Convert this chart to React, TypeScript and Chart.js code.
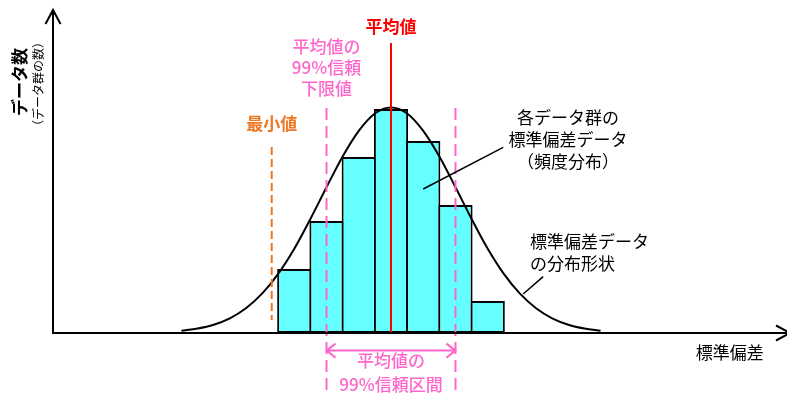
import React, { useEffect, useRef } from 'react';
import { Chart, registerables } from 'chart.js';

Chart.register(...registerables);

// ---- data (bin index units on x, counts on y) ----
const binCenters = [0, 1, 2, 3, 4, 5, 6];
const binCounts = [4, 7, 11, 14, 12, 8, 2];

const curveX = [-3.5, -3, -2.5, -2, -1.5, -1, -0.5, 0, 0.5, 1, 1.5, 2, 2.5, 3, 3.5, 4, 4.5, 5, 5.5, 6, 6.5, 7, 7.5, 8, 8.5, 9, 9.5];
const curveY = [0.14, 0.28, 0.52, 0.92, 1.55, 2.46, 3.7, 5.27, 7.13, 9.11, 11.03, 12.63, 13.72, 14.1, 13.72, 12.63, 11.03, 9.11, 7.13, 5.27, 3.7, 2.46, 1.55, 0.92, 0.52, 0.28, 0.14];

const meanValue = 3;
const ciLower = 1;
const ciUpper = 5;
const minValue = -0.7;

const meanLineTop = 18.125;
const ciLineTop = 14.06;
const minLineTop = 11.625;
const minLineBottom = 0.8125;

const X_MIN = -9.128;
const X_MAX = 15.283;
const Y_MIN = -3.9375;
const Y_MAX = 20.8125;

const axisXPos = -7.484;
const axisYTop = 20.19;
const axisXEnd = 15.376;

const FONT = '"Noto Sans CJK JP", "Noto Sans", sans-serif';
const PINK = '#ff66cc';
const RED = '#ff0000';
const ORANGE = '#ee7722';
const CYAN = '#66ffff';

type TextItem = { text: string; u: number; v: number; color: string; weight: string; size: number; align: CanvasTextAlign };

const texts: TextItem[] = [
  { text: '平均値', u: meanValue, v: 19.125, color: RED, weight: 'bold', size: 17, align: 'center' },
  { text: '平均値の', u: ciLower, v: 17.875, color: PINK, weight: '500', size: 17, align: 'center' },
  { text: '99%信頼', u: ciLower, v: 16.5625, color: PINK, weight: '500', size: 17, align: 'center' },
  { text: '下限値', u: ciLower, v: 15.25, color: PINK, weight: '500', size: 17, align: 'center' },
  { text: '最小値', u: minValue, v: 13.0625, color: ORANGE, weight: 'bold', size: 17, align: 'center' },
  { text: '各データ群の', u: 8.49, v: 13.44, color: '#000', weight: 'normal', size: 17, align: 'center' },
  { text: '標準偏差データ', u: 8.49, v: 12.06, color: '#000', weight: 'normal', size: 17, align: 'center' },
  { text: '（頻度分布）', u: 8.49, v: 10.69, color: '#000', weight: 'normal', size: 17, align: 'center' },
  { text: '標準偏差データ', u: 7.31, v: 5.69, color: '#000', weight: 'normal', size: 17, align: 'left' },
  { text: 'の分布形状', u: 7.31, v: 4.31, color: '#000', weight: 'normal', size: 17, align: 'left' },
  { text: '標準偏差', u: 13.51, v: -1.25, color: '#000', weight: 'normal', size: 17, align: 'center' },
  { text: '平均値の', u: meanValue, v: -1.75, color: PINK, weight: '500', size: 17, align: 'center' },
  { text: '99%信頼区間', u: meanValue, v: -3.25, color: PINK, weight: '500', size: 17, align: 'center' },
];

const leaders = [
  [4.0, 9.0, 6.48, 11.6],
  [7.1, 2.44, 7.72, 3.52],
];

const annotPlugin = {
  id: 'annot',
  afterDatasetsDraw(chart: any) {
    const { ctx } = chart;
    const xs = chart.scales.x;
    const ys = chart.scales.y;
    const P = (u: number, v: number) => [xs.getPixelForValue(u), ys.getPixelForValue(v)];
    ctx.save();
    // axes
    ctx.strokeStyle = '#000';
    ctx.lineWidth = 2;
    ctx.lineJoin = 'miter';
    const [ax, ay] = P(axisXPos, 0);
    const [, aTop] = P(axisXPos, axisYTop);
    const [aEnd] = P(axisXEnd, 0);
    ctx.beginPath();
    ctx.moveTo(ax, ay + 1);
    ctx.lineTo(ax, aTop);
    ctx.moveTo(ax, ay);
    ctx.lineTo(aEnd, ay);
    ctx.stroke();
    ctx.beginPath();
    ctx.moveTo(ax - 7.5, aTop + 14);
    ctx.lineTo(ax, aTop);
    ctx.lineTo(ax + 7.5, aTop + 14);
    ctx.stroke();
    ctx.beginPath();
    ctx.moveTo(aEnd - 14, ay - 7.5);
    ctx.lineTo(aEnd, ay);
    ctx.lineTo(aEnd - 14, ay + 7.5);
    ctx.stroke();

    // leader lines
    ctx.lineWidth = 1.5;
    for (const [u1, v1, u2, v2] of leaders) {
      const [x1, y1] = P(u1, v1);
      const [x2, y2] = P(u2, v2);
      ctx.beginPath();
      ctx.moveTo(x1, y1);
      ctx.lineTo(x2, y2);
      ctx.stroke();
    }

    // CI double arrow
    ctx.strokeStyle = PINK;
    ctx.lineWidth = 2;
    const [l, yy] = P(ciLower, -1.1);
    const [r] = P(ciUpper, -1.1);
    ctx.beginPath();
    ctx.moveTo(l, yy);
    ctx.lineTo(r, yy);
    ctx.moveTo(l + 9, yy - 7);
    ctx.lineTo(l, yy);
    ctx.lineTo(l + 9, yy + 7);
    ctx.moveTo(r - 9, yy - 7);
    ctx.lineTo(r, yy);
    ctx.lineTo(r - 9, yy + 7);
    ctx.stroke();

    // texts
    ctx.textBaseline = 'middle';
    for (const t of texts) {
      const [px, py] = P(t.u, t.v);
      ctx.font = `${t.weight} ${t.size}px ${FONT}`;
      ctx.fillStyle = t.color;
      ctx.textAlign = t.align;
      ctx.fillText(t.text, px, py);
    }

    // rotated y labels
    const [lx, lyv] = P(-8.51, 15.69);
    ctx.save();
    ctx.translate(lx, lyv);
    ctx.rotate(-Math.PI / 2);
    ctx.font = `bold 17px ${FONT}`;
    ctx.fillStyle = '#000';
    ctx.textAlign = 'center';
    ctx.fillText('データ数', 0, 0);
    ctx.restore();
    const [sx, sy] = P(-7.95, 15.56);
    ctx.save();
    ctx.translate(sx, sy);
    ctx.rotate(-Math.PI / 2);
    ctx.font = `12px ${FONT}`;
    ctx.fillStyle = '#000';
    ctx.textAlign = 'center';
    ctx.fillText('（データ群の数）', 0, 0);
    ctx.restore();

    ctx.restore();
  },
};

export default function App() {
  const ref = useRef<HTMLCanvasElement | null>(null);
  useEffect(() => {
    if (!ref.current) return;
    const bars = binCenters.map((c, i) => ({ x: c, y: binCounts[i] }));
    const curve = curveX.map((c, i) => ({ x: c, y: curveY[i] }));
    const chart = new Chart(ref.current, {
      type: 'bar',
      data: {
        datasets: [
          {
            type: 'bar',
            data: bars as any,
            backgroundColor: CYAN,
            borderColor: '#000',
            borderWidth: 2,
            borderSkipped: false,
            barPercentage: 1.062,
            categoryPercentage: 1,
            order: 10,
          },
          {
            type: 'line',
            data: curve as any,
            borderColor: '#000',
            borderWidth: 2,
            pointRadius: 0,
            cubicInterpolationMode: 'monotone',
            fill: false,
            order: 5,
          },
          {
            type: 'line',
            data: [{ x: ciLower, y: ciLineTop }, { x: ciLower, y: Y_MIN }] as any,
            borderColor: PINK,
            borderWidth: 2,
            borderDash: [12, 6],
            pointRadius: 0,
            order: 3,
          },
          {
            type: 'line',
            data: [{ x: ciUpper, y: ciLineTop }, { x: ciUpper, y: Y_MIN }] as any,
            borderColor: PINK,
            borderWidth: 2,
            borderDash: [12, 6],
            pointRadius: 0,
            order: 3,
          },
          {
            type: 'line',
            data: [{ x: minValue, y: minLineTop }, { x: minValue, y: minLineBottom }] as any,
            borderColor: ORANGE,
            borderWidth: 2,
            borderDash: [8, 4],
            pointRadius: 0,
            order: 3,
          },
          {
            type: 'line',
            data: [{ x: meanValue, y: 0 }, { x: meanValue, y: meanLineTop }] as any,
            borderColor: RED,
            borderWidth: 2,
            pointRadius: 0,
            order: 1,
          },
        ],
      },
      options: {
        responsive: false,
        animation: false,
        events: [],
        layout: { padding: 0 },
        plugins: { legend: { display: false }, tooltip: { enabled: false } },
        scales: {
          x: {
            type: 'linear',
            min: X_MIN,
            max: X_MAX,
            display: false,
            offset: false,
            afterBuildTicks: (s: any) => { s.ticks = []; },
          },
          y: { type: 'linear', min: Y_MIN, max: Y_MAX, display: false },
        },
      },
      plugins: [annotPlugin],
    } as any);
    return () => chart.destroy();
  }, []);
  return (
    <div style={{ position: 'fixed', left: 0, top: 0, width: 787, height: 396, background: '#fff' }}>
      <canvas ref={ref} width={787} height={396} style={{ display: 'block' }} />
    </div>
  );
}
